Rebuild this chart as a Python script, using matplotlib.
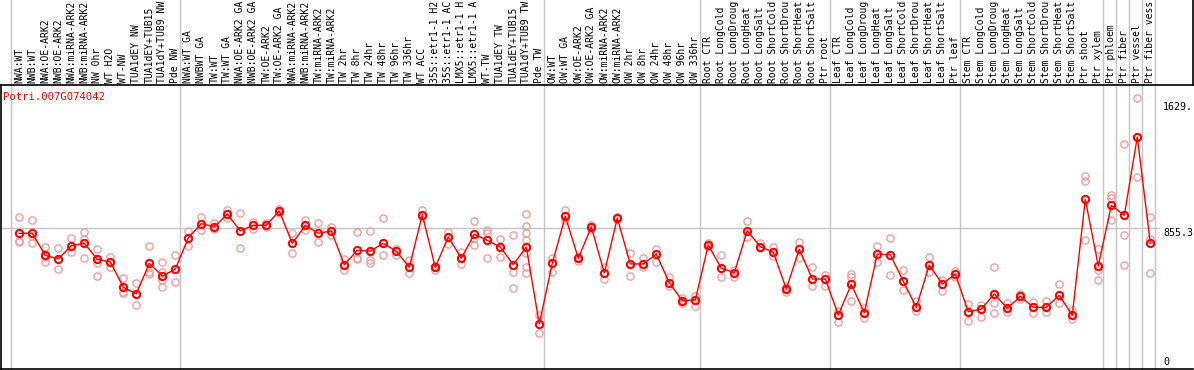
import matplotlib
matplotlib.use("Agg")
import matplotlib.pyplot as plt

labels = [
    "NWA:WT", "NWB:WT", "NWA:OE-ARK2", "NWB:OE-ARK2", "NWA:miRNA-ARK2", "NWB:miRNA-ARK2",
    "NW 0hr", "WT H2O", "WT-NW", "TUA1dEY NW", "TUA1dEY+TUB15", "TUA1dY+TUB9 NW", "Pde NW",
    "NWA:WT GA", "NWBWT GA", "TW:WT", "TW:WT GA", "NWA:OE-ARK2 GA", "NWB:OE-ARK2 GA",
    "TW:OE-ARK2", "TW:OE-ARK2 GA", "NWA:miRNA-ARK2", "NWB:miRNA-ARK2", "TW:miRNA-ARK2",
    "TW:miRNA-ARK2", "TW 2hr", "TW 8hr", "TW 24hr", "TW 48hr", "TW 96hr", "TW 336hr",
    "WT ACC", "35S::etr1-1 H2", "35S::etr1-1 AC", "LMX5::etr1-1 H", "LMX5::etr1-1 A",
    "WT-TW", "TUA1dEY TW", "TUA1dEY+TUB15", "TUA1dY+TUB9 TW", "Pde TW",
    "OW:WT", "OW:WT GA", "OW:OE-ARK2", "OW:OE-ARK2 GA", "OW:miRNA-ARK2", "OW:miRNA-ARK2",
    "OW 2hr", "OW 8hr", "OW 24hr", "OW 48hr", "OW 96hr", "OW 336hr",
    "Root CTR", "Root LongCold", "Root LongDroug", "Root LongHeat", "Root LongSalt",
    "Root ShortCold", "Root ShortDrou", "Root ShortHeat", "Root ShortSalt", "Ptr root",
    "Leaf CTR", "Leaf LongCold", "Leaf LongDroug", "Leaf LongHeat", "Leaf LongSalt",
    "Leaf ShortCold", "Leaf ShortDrou", "Leaf ShortHeat", "Leaf ShortSalt", "Ptr leaf",
    "Stem CTR", "Stem LongCold", "Stem LongDroug", "Stem LongHeat", "Stem LongSalt",
    "Stem ShortCold", "Stem ShortDrou", "Stem ShortHeat", "Stem ShortSalt", "Ptr shoot",
    "Ptr xylem", "Ptr phloem", "Ptr fiber", "Ptr vessel", "Ptr fiber vess",
]

# indices where a new sample group starts (separators drawn before them)
group_starts = [0, 13, 41, 53, 63, 73, 84, 85, 86, 87]

means = [
    824, 824, 692, 671, 750, 764, 669, 653, 502, 462, 645, 569, 610,
    796, 882, 862, 939, 838, 872, 872, 957, 764, 871, 824, 838, 636, 723, 718,
    764, 717, 621, 935, 621, 802, 675, 818, 782, 742, 637, 742, 283,
    645, 925, 675, 862, 587, 915, 641, 641, 700, 529, 422, 426,
    754, 615, 589, 840, 744, 711, 492, 729, 551, 551,
    337, 520, 350, 700, 696, 538, 382, 635, 521, 581,
    356, 372, 462, 376, 448, 382, 382, 454, 335, 1027, 629,
    991, 931, 1399, 764,
]

replicates = [
    [919, 778, 770], [903, 808, 764], [745, 651, 680], [734, 609], [795, 712],
    [830, 792, 675], [730, 645, 569], [680, 622], [557, 476, 466], [526, 396],
    [747, 595, 581], [651, 595, 545, 502], [693, 532],
    [840, 751], [922, 841], [884, 850], [963, 913], [943, 734], [891, 851],
    [888, 860], [969, 945], [824, 705], [906, 846], [885, 770], [860, 812],
    [673, 603], [831, 674, 669], [839, 664, 647], [915, 693], [732, 696],
    [665, 585], [963, 923], [629, 605], [834, 758], [711, 641], [897, 794, 754],
    [844, 824, 677], [790, 683], [814, 591, 496],
    [937, 868, 824, 784, 708, 625, 585], [337, 227],
    [675, 591], [963, 903], [684, 661], [874, 850], [625, 553], [920, 910],
    [705, 569], [675, 625], [729, 655], [561, 510], [436, 410], [450, 390],
    [768, 744], [695, 561], [605, 565], [897, 804], [764, 734], [744, 690],
    [505, 476], [770, 675], [621, 511], [575, 511],
    [360, 297], [581, 561, 420], [376, 320], [746, 651], [794, 573], [605, 486],
    [420, 362], [683, 591], [545, 478], [601, 563],
    [404, 301], [396, 326], [623, 406, 347], [406, 356], [462, 432], [414, 347],
    [422, 356], [521, 406], [366, 311], [1166, 1138, 782], [729, 605, 544],
    [1053, 1033, 903], [1357, 814, 635], [1629, 1158], [919, 788, 585],
]

ref_value = 855.3
right_labels = ["1629.", "855.3", "0"]
title = "Potri.007G074042"

W, H = 1194, 370
fig = plt.figure(figsize=(W / 100, H / 100), dpi=100)
ax_left, ax_right, ax_top, ax_bot = 1, 1193, 85, 368.7
ax = fig.add_axes([ax_left / W, (H - ax_bot) / H, (ax_right - ax_left) / W, (ax_bot - ax_top) / H])

n = len(labels)
x = list(range(n))
ax.set_xlim((ax_left - 19.3) / 13.0, (ax_right - 19.3) / 13.0)
ax.set_ylim(16, 1709)

grid_c = "#c4c4c4"
top_frac = ax_bot / (ax_bot - ax_top)
seps = [s - 0.62 for s in group_starts] + [n - 1 + 0.38]
for s in seps:
    ax.axvline(s, 0, top_frac, color=grid_c, lw=1.0, clip_on=False, zorder=1)
ax.hlines(ref_value, ax.get_xlim()[0], (1160 - 19.3) / 13.0, color=grid_c, lw=1.0, zorder=1)

rep_color = "#f0a0a0"
for i, reps in enumerate(replicates):
    ax.plot([x[i]] * len(reps), reps, linestyle="none", marker="o", ms=5.2,
            mfc="none", mec=rep_color, mew=1.0, zorder=2)
ax.plot(x, means, color="#ff0000", lw=1.0, zorder=3)
ax.plot(x, means, linestyle="none", marker="o", ms=5.2, mfc="none",
        mec="#ff0000", mew=1.5, zorder=4)

mono = "DejaVu Sans Mono"
ax.xaxis.tick_top()
ax.set_xticks(x)
ax.set_xticklabels(labels, rotation=90, fontsize=7.0, family=mono, va="bottom", ha="center")
ax.tick_params(axis="x", length=0, pad=1.2)
ax.set_yticks([])

for sp in ["left", "top", "bottom"]:
    ax.spines[sp].set_color("black")
    ax.spines[sp].set_linewidth(1.2)
ax.spines["right"].set_visible(False)
ax.plot([1, 1], [1, top_frac], transform=ax.transAxes, color="black", lw=1.2, clip_on=False)

ax.text(0.0017, (ax_bot - 96.7) / (ax_bot - ax_top), title, transform=ax.transAxes,
        color="#ff0000", fontsize=7.6, family=mono, va="center", ha="left")

label_y = [106.7, 232.7, 361.7]
for lab, py in zip(right_labels, label_y):
    ax.text((1163 - ax_left) / (ax_right - ax_left), (ax_bot - py) / (ax_bot - ax_top), lab,
            transform=ax.transAxes, fontsize=7.2, family=mono, va="center", ha="left", color="black")

fig.savefig("out.png", dpi=100)
